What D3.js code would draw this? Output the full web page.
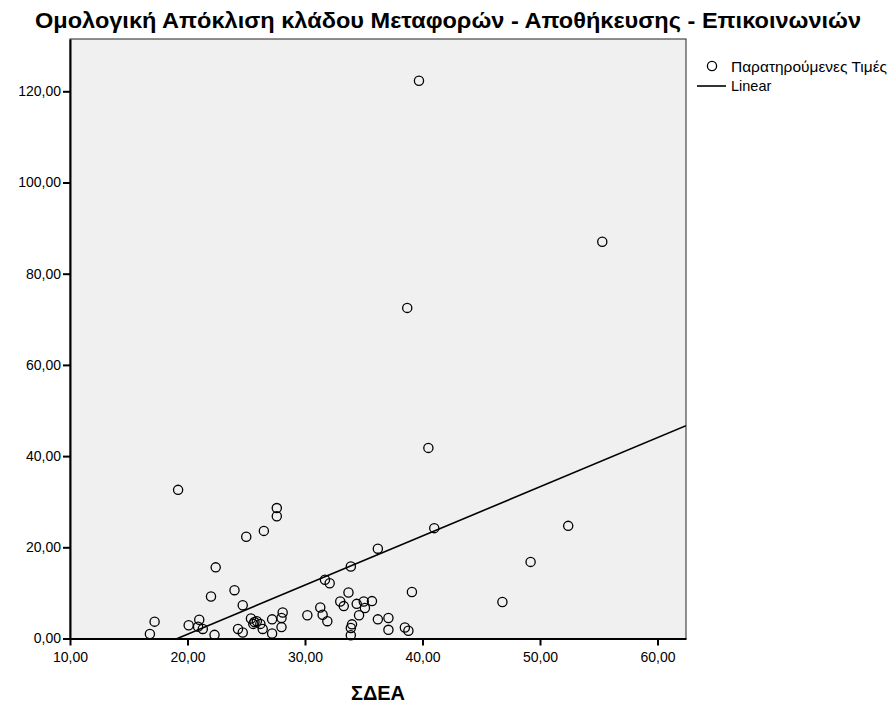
<!DOCTYPE html>
<html>
<head>
<meta charset="utf-8">
<script src="https://cdn.jsdelivr.net/npm/d3@7"></script>
<style>
  body { margin: 0; background: #fff; }
  svg text { font-family: "Liberation Sans", Arial, sans-serif; fill: #000; }
</style>
</head>
<body>
<svg id="chart" width="892" height="704"></svg>
<script>
// ---- data ----
const sdeaX = [
  39.7, 55.3, 38.7, 40.5, 41.0, 52.4, 49.2, 46.8, 39.1,
  19.2, 27.6, 27.6, 26.5, 25.0, 22.4, 24.0, 22.0, 24.7, 17.2, 16.8,
  21.0, 20.1, 20.9, 21.3, 22.3, 24.3, 24.7, 25.4, 25.6, 25.7, 25.9,
  26.2, 26.4, 27.2, 27.2, 28.0, 28.1, 28.0, 30.2, 31.3, 31.5, 31.9,
  31.7, 32.1, 36.2, 33.9, 33.7, 33.0, 33.3, 34.4, 35.0, 35.7, 35.1,
  34.6, 36.2, 37.1, 37.1, 34.0, 33.9, 33.9, 38.5, 38.8
];
const deviationY = [
  122.3, 87.0, 72.5, 41.8, 24.2, 24.7, 16.8, 8.0, 10.2,
  32.6, 28.6, 26.8, 23.6, 22.3, 15.6, 10.6, 9.2, 7.3, 3.7, 1.0,
  4.1, 2.9, 2.6, 2.1, 0.8, 2.1, 1.3, 4.4, 3.2, 3.6, 3.8,
  3.2, 2.1, 4.2, 1.1, 4.5, 5.7, 2.5, 5.1, 6.8, 5.2, 3.8,
  12.9, 12.1, 19.7, 15.8, 10.1, 8.1, 7.1, 7.6, 8.1, 8.2, 6.7,
  5.1, 4.2, 4.5, 1.9, 3.1, 2.3, 0.7, 2.4, 1.7
];
const fitIntercept = -20.63;
const fitSlope = 1.078;
const xTicks = [10, 20, 30, 40, 50, 60];
const yTicks = [0, 20, 40, 60, 80, 100, 120];
const titleText = "Ομολογική Απόκλιση κλάδου Μεταφορών - Αποθήκευσης - Επικοινωνιών";
const xTitle = "ΣΔΕΑ";
const legendLabels = ["Παρατηρούμενες Τιμές", "Linear"];

// ---- layout ----
const L = 70, R = 686, T = 39, B = 638.5;
const xDomain = [10, 10 + (R - L) / 11.75];
const yDomain = [0, (B - T) / 4.56];
const x = d3.scaleLinear().domain(xDomain).range([L, R]);
const y = d3.scaleLinear().domain(yDomain).range([B, T]);
const fmt = v => d3.format(".2f")(v).replace(".", ",");

const svg = d3.select("#chart");

// plot background
svg.append("rect").attr("x", L).attr("y", T).attr("width", R - L).attr("height", B - T)
  .attr("fill", "#f0f0f0").attr("stroke", "#222").attr("stroke-width", 1);

// clip
svg.append("clipPath").attr("id", "clip").append("rect")
  .attr("x", L).attr("y", T).attr("width", R - L).attr("height", B - T);

// regression line
const lx0 = xDomain[0], lx1 = xDomain[1];
svg.append("line")
  .attr("clip-path", "url(#clip)")
  .attr("x1", x(lx0)).attr("y1", y(fitIntercept + fitSlope * lx0))
  .attr("x2", x(lx1)).attr("y2", y(fitIntercept + fitSlope * lx1))
  .attr("stroke", "#000").attr("stroke-width", 1.6);

// points
svg.append("g").selectAll("circle")
  .data(sdeaX.map((v, i) => [v, deviationY[i]]))
  .join("circle")
  .attr("cx", d => x(d[0])).attr("cy", d => y(d[1]))
  .attr("r", 4.6).attr("fill", "none").attr("stroke", "#000").attr("stroke-width", 1.3);

// axes
const xAxis = d3.axisBottom(x).tickValues(xTicks).tickFormat(fmt).tickSize(7).tickSizeOuter(0);
const gx = svg.append("g").attr("transform", `translate(0,${B})`).call(xAxis);
gx.select(".domain").attr("stroke", "#000").attr("stroke-width", 2);
gx.selectAll(".tick line").attr("stroke", "#000").attr("stroke-width", 2);
gx.selectAll(".tick text").attr("font-size", "14px").attr("dy", "0.71em").attr("y", 14)
  .attr("font-family", "Liberation Sans, Arial, sans-serif");

const yAxis = d3.axisLeft(y).tickValues(yTicks).tickFormat(fmt).tickSize(7).tickSizeOuter(0);
const gy = svg.append("g").attr("transform", `translate(${L},0)`).call(yAxis);
gy.select(".domain").attr("stroke", "#000").attr("stroke-width", 2);
gy.selectAll(".tick line").attr("stroke", "#000").attr("stroke-width", 2);
gy.selectAll(".tick text").attr("font-size", "14px").attr("x", -9)
  .attr("font-family", "Liberation Sans, Arial, sans-serif");

// title
svg.append("text").attr("x", 448).attr("y", 28).attr("text-anchor", "middle")
  .attr("font-size", "22.5px").attr("font-weight", "bold")
  .attr("textLength", 826).attr("lengthAdjust", "spacingAndGlyphs")
  .text(titleText);

// x title
svg.append("text").attr("x", (L + R) / 2).attr("y", 700).attr("text-anchor", "middle")
  .attr("font-size", "20px").attr("font-weight", "bold").text(xTitle);

// legend
const lg = svg.append("g");
lg.append("circle").attr("cx", 712).attr("cy", 66).attr("r", 4.6)
  .attr("fill", "none").attr("stroke", "#000").attr("stroke-width", 1.3);
lg.append("text").attr("x", 731).attr("y", 72).attr("font-size", "14.5px")
  .attr("textLength", 156).attr("lengthAdjust", "spacingAndGlyphs").text(legendLabels[0]);
lg.append("line").attr("x1", 697).attr("x2", 726).attr("y1", 86).attr("y2", 86)
  .attr("stroke", "#000").attr("stroke-width", 1.6);
lg.append("text").attr("x", 731).attr("y", 91).attr("font-size", "14.5px").text(legendLabels[1]);
</script>
</body>
</html>
